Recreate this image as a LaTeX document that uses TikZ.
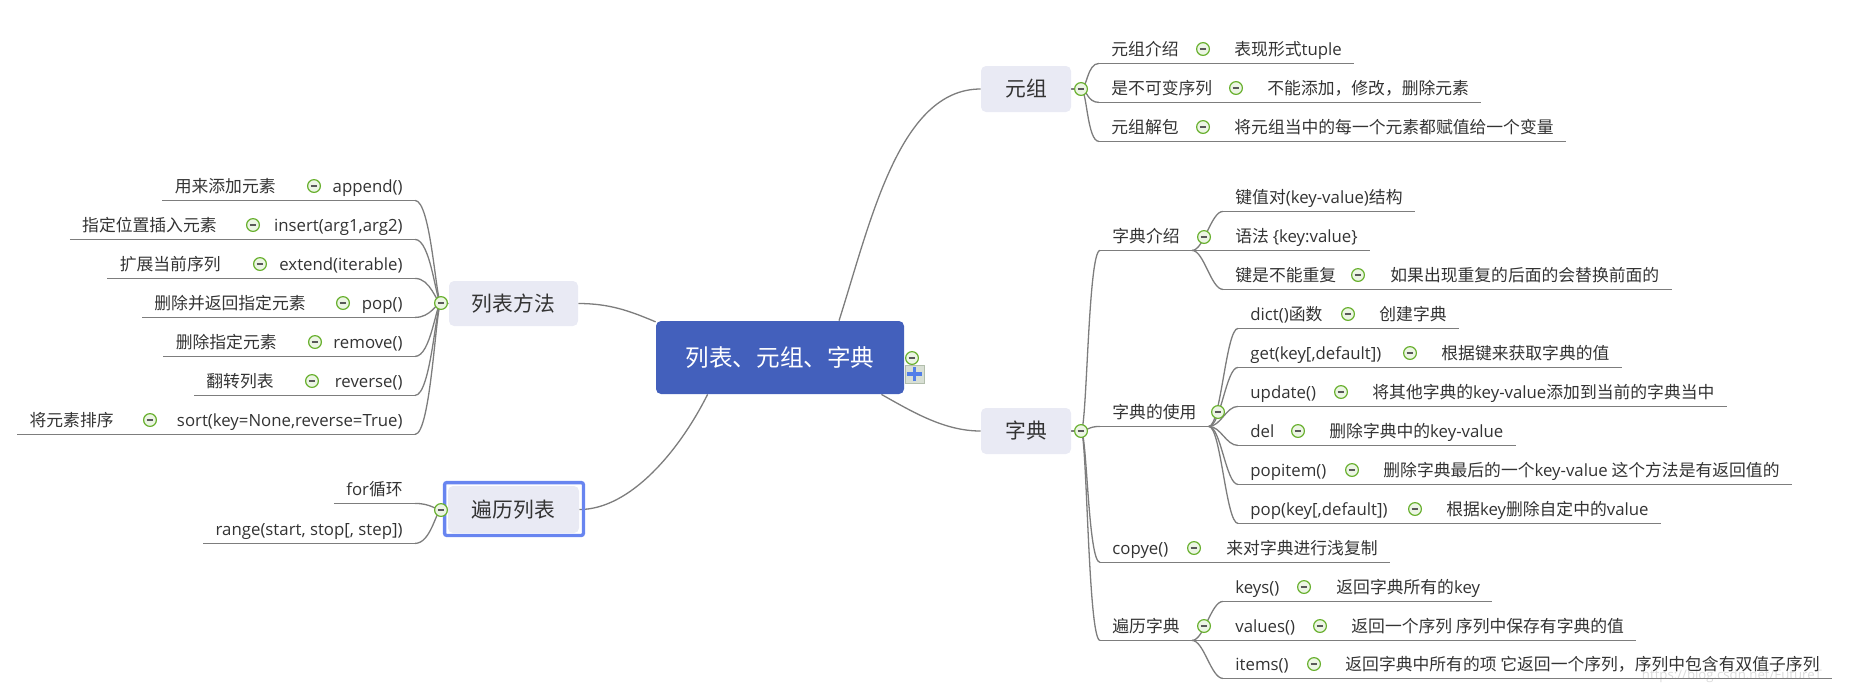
\documentclass[tikz,border=0pt]{standalone}
\usepackage{fontspec}
\setmainfont{Noto Sans CJK SC}
\newfontfamily\enfont{Open Sans}
\newcommand{\entxt}[1]{{\enfont #1}}
\usepackage{tikz}
\usetikzlibrary{backgrounds}

\definecolor{rootblue}{RGB}{67,96,188}
\definecolor{topicfill}{RGB}{233,234,244}
\definecolor{selblue}{RGB}{104,133,240}
\definecolor{txt}{RGB}{51,51,51}
\definecolor{linegray}{RGB}{125,125,125}
\definecolor{mgreen}{RGB}{104,176,46}
\definecolor{mfill}{RGB}{236,245,228}
\definecolor{plusblue}{RGB}{82,126,232}
\definecolor{plusbg}{RGB}{216,223,212}
\definecolor{plusedge}{RGB}{178,190,172}

\begin{document}
\begin{tikzpicture}
[x=0.5pt,y=-0.5pt,
	leaf/.style={inner xsep=6pt,inner ysep=0pt,text height=10pt,text depth=4pt,text=txt,font=\fontsize{8.4}{10}\selectfont},
	rleaf/.style={leaf,anchor=west},
	lleaf/.style={leaf,anchor=east},
	topic/.style={fill=topicfill,rounded corners=2.5pt,text=txt,inner sep=0pt,minimum width=45pt,minimum height=23pt,font=\fontsize{10.4}{12}\selectfont},
	rootbox/.style={fill=rootblue,rounded corners=2.5pt,text=white,inner sep=0pt,minimum width=124pt,minimum height=36.5pt,font=\fontsize{11.8}{14}\selectfont},
	fold/.style={circle,draw=mgreen,fill=mfill,line width=0.6pt,inner sep=0pt,minimum size=6.4pt,
		path picture={\draw[black!65,line width=0.9pt] ([xshift=-1.7pt]path picture bounding box.center) -- ([xshift=1.7pt]path picture bounding box.center);}},
	plusbox/.style={draw=plusedge,fill=plusbg,line width=0.4pt,inner sep=0pt,minimum width=9.5pt,minimum height=9pt,
		path picture={\draw[plusblue,line width=1.9pt] ([xshift=-3.6pt]path picture bounding box.center) -- ([xshift=3.6pt]path picture bounding box.center)
			([yshift=-3.6pt]path picture bounding box.center) -- ([yshift=3.6pt]path picture bounding box.center);}},
	branch/.style={draw=linegray,line width=0.65pt},
	uline/.style={draw=linegray,line width=0.6pt},
	selbox/.style={draw=selblue,line width=1.65pt,rounded corners=1pt},
	wmark/.style={anchor=east,text=black!14,font=\enfont\fontsize{6.6}{8}\selectfont}]

	\useasboundingbox (0,0) rectangle (1850,693);
	%\draw[gray!30,step=50] (0,0) grid (1850,693);

	% centre
	\node[rootbox] (root) at (780,357.5) {列表、元组、字典};
	\node[fold] (rootm) at (912,358) {};
	\node[plusbox] (rootp) at (914.5,374) {};

	% 元组
	\node[topic] (yz) at (1026,89) {元组};
	\node[fold] (yzf) at (1081,89) {};
	\node[rleaf] (yz1) at (1099,49) {元组介绍};
	\node[fold] (yz1f) at (1203,49) {};
	\node[rleaf] (yz1d) at (1222,49) {表现形式\entxt{tuple}};
	\node[rleaf] (yz2) at (1099,88) {是不可变序列};
	\node[fold] (yz2f) at (1236,88) {};
	\node[rleaf] (yz2d) at (1255,88) {不能添加，修改，删除元素};
	\node[rleaf] (yz3) at (1099,127) {元组解包};
	\node[fold] (yz3f) at (1203,127) {};
	\node[rleaf] (yz3d) at (1222,127) {将元组当中的每一个元素都赋值给一个变量};

	% 字典
	\node[topic] (zd) at (1026,431) {字典};
	\node[fold] (zdf) at (1081,431) {};

	\node[rleaf] (zd1) at (1100,236) {字典介绍};
	\node[fold] (zd1f) at (1204,237) {};
	\node[rleaf] (zd11) at (1223,197) {键值对\entxt{(key-value)}结构};
	\node[rleaf] (zd12) at (1223,236) {语法 \entxt{\{key:value\}}};
	\node[rleaf] (zd13) at (1223,275) {键是不能重复};
	\node[fold] (zd13f) at (1358,275) {};
	\node[rleaf] (zd13d) at (1378,275) {如果出现重复的后面的会替换前面的};

	\node[rleaf] (zd2) at (1100,412) {字典的使用};
	\node[fold] (zd2f) at (1218,412) {};
	\node[rleaf] (zd21) at (1238,314) {\entxt{dict()}函数};
	\node[fold] (zd21f) at (1348,314) {};
	\node[rleaf] (zd21d) at (1367,314) {创建字典};
	\node[rleaf] (zd22) at (1238,353) {\entxt{get(key[,default])}};
	\node[fold] (zd22f) at (1410,353) {};
	\node[rleaf] (zd22d) at (1429,353) {根据键来获取字典的值};
	\node[rleaf] (zd23) at (1238,392) {\entxt{update()}};
	\node[fold] (zd23f) at (1341,392) {};
	\node[rleaf] (zd23d) at (1360,392) {将其他字典的\entxt{key-value}添加到当前的字典当中};
	\node[rleaf] (zd24) at (1238,431) {\entxt{del}};
	\node[fold] (zd24f) at (1298,431) {};
	\node[rleaf] (zd24d) at (1317,431) {删除字典中的\entxt{key-value}};
	\node[rleaf] (zd25) at (1238,470) {\entxt{popitem()}};
	\node[fold] (zd25f) at (1352,470) {};
	\node[rleaf] (zd25d) at (1371,470) {删除字典最后的一个\entxt{key-value} 这个方法是有返回值的};
	\node[rleaf] (zd26) at (1238,509) {\entxt{pop(key[,default])}};
	\node[fold] (zd26f) at (1415,509) {};
	\node[rleaf] (zd26d) at (1434,509) {根据\entxt{key}删除自定中的\entxt{value}};

	\node[rleaf] (zd3) at (1100,548) {\entxt{copye()}};
	\node[fold] (zd3f) at (1194,548) {};
	\node[rleaf] (zd3d) at (1214,548) {来对字典进行浅复制};

	\node[rleaf] (zd4) at (1100,626) {遍历字典};
	\node[fold] (zd4f) at (1204,626) {};
	\node[rleaf] (zd41) at (1223,587) {\entxt{keys()}};
	\node[fold] (zd41f) at (1304,587) {};
	\node[rleaf] (zd41d) at (1324,587) {返回字典所有的\entxt{key}};
	\node[rleaf] (zd42) at (1223,626) {\entxt{values()}};
	\node[fold] (zd42f) at (1320,626) {};
	\node[rleaf] (zd42d) at (1339,626) {返回一个序列 序列中保存有字典的值};
	\node[rleaf] (zd43) at (1223,664) {\entxt{items()}};
	\node[fold] (zd43f) at (1314,664) {};
	\node[rleaf] (zd43d) at (1333,664) {返回字典中所有的项 它返回一个序列，序列中包含有双值子序列};

	% 列表方法
	\node[topic,minimum width=64.5pt,minimum height=22.5pt] (lb) at (513.5,303.5) {列表方法};
	\node[fold] (lbf) at (441,303) {};
	\node[lleaf] (lb1) at (288,186) {用来添加元素};
	\node[fold] (lb1f) at (314,186) {};
	\node[lleaf] (lb1d) at (415,186) {\entxt{append()}};
	\node[lleaf] (lb2) at (229,225) {指定位置插入元素};
	\node[fold] (lb2f) at (253,225) {};
	\node[lleaf] (lb2d) at (415,225) {\entxt{insert(arg1,arg2)}};
	\node[lleaf] (lb3) at (233,264) {扩展当前序列};
	\node[fold] (lb3f) at (260,264) {};
	\node[lleaf] (lb3d) at (415,264) {\entxt{extend(iterable)}};
	\node[lleaf] (lb4) at (318,303) {删除并返回指定元素};
	\node[fold] (lb4f) at (343,303) {};
	\node[lleaf] (lb4d) at (415,303) {\entxt{pop()}};
	\node[lleaf] (lb5) at (289,342) {删除指定元素};
	\node[fold] (lb5f) at (315,342) {};
	\node[lleaf] (lb5d) at (415,342) {\entxt{remove()}};
	\node[lleaf] (lb6) at (286,381) {翻转列表};
	\node[fold] (lb6f) at (312,381) {};
	\node[lleaf] (lb6d) at (415,381) {\entxt{reverse()}};
	\node[lleaf] (lb7) at (126,420) {将元素排序};
	\node[fold] (lb7f) at (150,420) {};
	\node[lleaf] (lb7d) at (415,420) {\entxt{sort(key=None,reverse=True)}};

	% 遍历列表
	\node[topic,minimum width=65.5pt,minimum height=23.5pt] (bl) at (513.5,509.5) {遍历列表};
	\draw[selbox] ([shift={(-3,-3)}]bl.north west) rectangle ([shift={(4,2)}]bl.south east);
	\node[fold] (blf) at (441,510) {};
	\node[lleaf] (bl1) at (415,489) {\entxt{for}循环};
	\node[lleaf] (bl2) at (415,529) {\entxt{range(start, stop[, step])}};

	\begin{scope}[on background layer]
		\node[wmark] (wm) at (1829,676) {https://blog.csdn.net/FutureT};

		\draw[branch] (root.32) .. controls +(32,-101) and +(-81,0) .. (yz.west);
		\draw[branch] (root.340) .. controls +(32,18) and +(-36,0) .. (zd.west);
		\draw[branch] (lb.east) .. controls +(31,0) and +(-26,-11) .. (root.164);
		\draw[branch] (root.207) .. controls +(-28,56) and +(51,0) .. (bl.east);

		\draw[branch] (yz.east) -- (yzf.center);
		\draw[branch] (zd.east) -- (zdf.center);
		\draw[branch] (lb.west) -- (lbf.center);
		\draw[branch] (bl.west) -- (blf.center);

		\foreach \c in {yz1,yz2,yz3}
			\draw[branch] (yzf.center) .. controls +(6,0) and +(-12,0) .. (\c.south west);
		\foreach \c in {zd1,zd2,zd3,zd4}
			\draw[branch] (zdf.center) .. controls +(6,0) and +(-12,0) .. (\c.south west);
		\foreach \c in {zd11,zd12,zd13}
			\draw[branch] (zd1.south east) .. controls +(12,0) and +(-12,0) .. (\c.south west);
		\foreach \c in {zd21,zd22,zd23,zd24,zd25,zd26}
			\draw[branch] (zd2.south east) .. controls +(12,0) and +(-12,0) .. (\c.south west);
		\foreach \c in {zd41,zd42,zd43}
			\draw[branch] (zd4.south east) .. controls +(12,0) and +(-12,0) .. (\c.south west);
		\foreach \c in {lb1d,lb2d,lb3d,lb4d,lb5d,lb6d,lb7d}
			\draw[branch] (lbf.center) .. controls +(-5,0) and +(16,0) .. (\c.south east);
		\foreach \c in {bl1,bl2}
			\draw[branch] (blf.center) .. controls +(-5,0) and +(16,0) .. (\c.south east);

		\foreach \a/\b in {yz1/yz1d,yz2/yz2d,yz3/yz3d,zd1/zd1,zd11/zd11,zd12/zd12,zd13/zd13d,
			zd2/zd2,zd21/zd21d,zd22/zd22d,zd23/zd23d,zd24/zd24d,zd25/zd25d,zd26/zd26d,
			zd3/zd3d,zd4/zd4,zd41/zd41d,zd42/zd42d,zd43/zd43d,
			lb1/lb1d,lb2/lb2d,lb3/lb3d,lb4/lb4d,lb5/lb5d,lb6/lb6d,lb7/lb7d,bl1/bl1,bl2/bl2}
			\draw[uline] (\a.south west) -- (\b.south east);
	\end{scope}
\end{tikzpicture}
\end{document}
